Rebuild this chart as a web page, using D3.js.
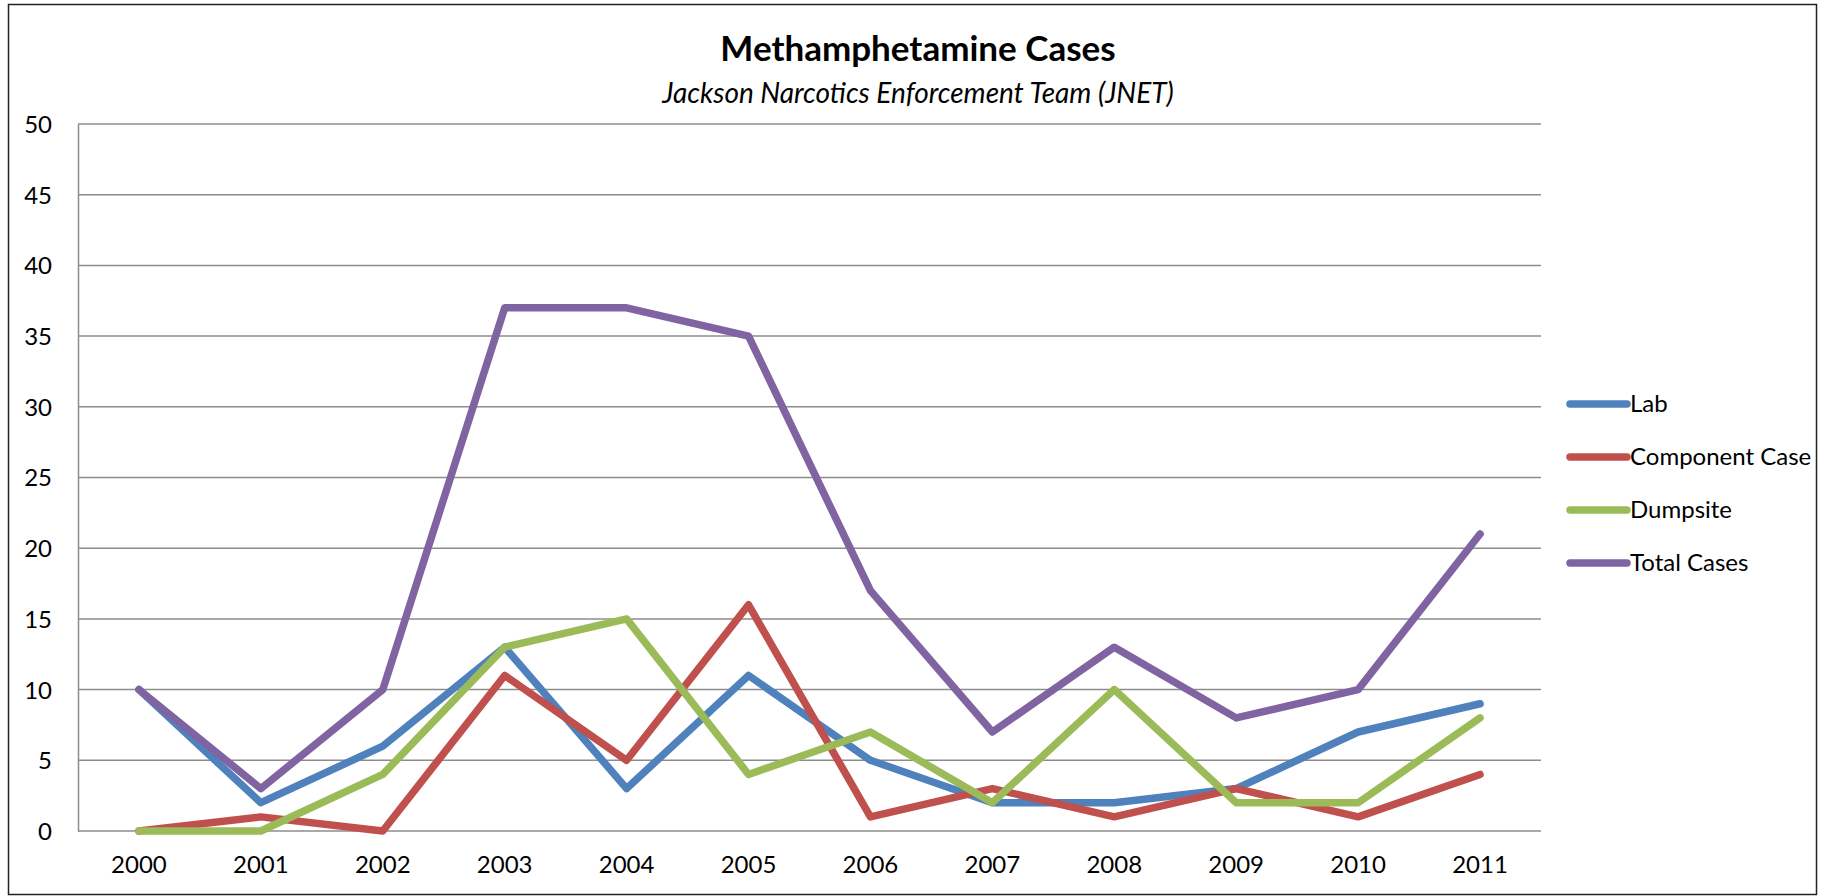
<!DOCTYPE html>
<html>
<head>
<meta charset="utf-8">
<script src="https://cdn.jsdelivr.net/npm/d3@7"></script>
<style>
  body { margin: 0; background: #fff; }
  text { font-family: Lato, "Open Sans", sans-serif; fill: #000; }
</style>
</head>
<body>
<svg id="chart" width="1837" height="896"></svg>
<script>
var years = ["2000", "2001", "2002", "2003", "2004", "2005", "2006", "2007", "2008", "2009", "2010", "2011"];
var lab = [10, 2, 6, 13, 3, 11, 5, 2, 2, 3, 7, 9];
var component = [0, 1, 0, 11, 5, 16, 1, 3, 1, 3, 1, 4];
var dumpsite = [0, 0, 4, 13, 15, 4, 7, 2, 10, 2, 2, 8];
var total = [10, 3, 10, 37, 37, 35, 17, 7, 13, 8, 10, 21];
var yTicks = [0, 5, 10, 15, 20, 25, 30, 35, 40, 45, 50];

var series = [
  { name: "Lab", values: lab, color: "#4f81bd" },
  { name: "Component Case", values: component, color: "#c0504d" },
  { name: "Dumpsite", values: dumpsite, color: "#9bbb59" },
  { name: "Total Cases", values: total, color: "#8064a2" }
];

var svg = d3.select("#chart");

// outer border
svg.append("rect")
  .attr("x", 8.5).attr("y", 4.5)
  .attr("width", 1808).attr("height", 890)
  .attr("fill", "none")
  .attr("stroke", "#222")
  .attr("stroke-width", 1.5);

var margin = {top: 124, left: 78, right: 1541, bottom: 831};

var x = d3.scaleBand()
  .domain(years)
  .range([margin.left, margin.right]);

var y = d3.scaleLinear()
  .domain([0, 50])
  .range([margin.bottom, margin.top]);

// gridlines
svg.append("g")
  .selectAll("line")
  .data(yTicks)
  .enter().append("line")
    .attr("x1", margin.left)
    .attr("x2", margin.right)
    .attr("y1", function(d) { return y(d); })
    .attr("y2", function(d) { return y(d); })
    .attr("stroke", "#8c8c8c")
    .attr("stroke-width", 1.5);

// y axis
var yAxis = svg.append("g")
  .attr("transform", "translate(" + margin.left + ",0)")
  .call(d3.axisLeft(y).tickValues(yTicks).tickSize(0).tickPadding(26));
yAxis.select(".domain").attr("stroke", "#8c8c8c").attr("stroke-width", 1.5);
yAxis.selectAll("text").style("font-size", "24px").attr("dy", "0.35em");

// x axis
var xAxis = svg.append("g")
  .attr("transform", "translate(0," + margin.bottom + ")")
  .call(d3.axisBottom(x).tickSize(0).tickPadding(25));
xAxis.select(".domain").remove();
xAxis.selectAll("text").style("font-size", "24px");

// lines
var line = d3.line()
  .x(function(d, i) { return x(years[i]) + x.bandwidth() / 2; })
  .y(function(d) { return y(d); });

svg.append("g")
  .selectAll("path")
  .data(series)
  .enter().append("path")
    .attr("d", function(d) { return line(d.values); })
    .attr("fill", "none")
    .attr("stroke", function(d) { return d.color; })
    .attr("stroke-width", 7.5)
    .attr("stroke-linecap", "round")
    .attr("stroke-linejoin", "round");

// title
svg.append("text")
  .attr("x", 918).attr("y", 61)
  .attr("text-anchor", "middle")
  .style("font-size", "35px")
  .style("font-weight", "bold")
  .text("Methamphetamine Cases");

svg.append("text")
  .attr("x", 918).attr("y", 103)
  .attr("text-anchor", "middle")
  .style("font-size", "28px")
  .style("font-style", "italic")
  .text("Jackson Narcotics Enforcement Team (JNET)");

// legend
var legend = svg.append("g")
  .selectAll("g")
  .data(series)
  .enter().append("g")
    .attr("transform", function(d, i) { return "translate(1570," + (404 + i * 53) + ")"; });

legend.append("line")
  .attr("x1", 0).attr("x2", 57)
  .attr("stroke", function(d) { return d.color; })
  .attr("stroke-width", 7.5)
  .attr("stroke-linecap", "round");

legend.append("text")
  .attr("x", 60)
  .attr("dy", "0.35em")
  .style("font-size", "24px")
  .text(function(d) { return d.name; });
</script>
</body>
</html>
